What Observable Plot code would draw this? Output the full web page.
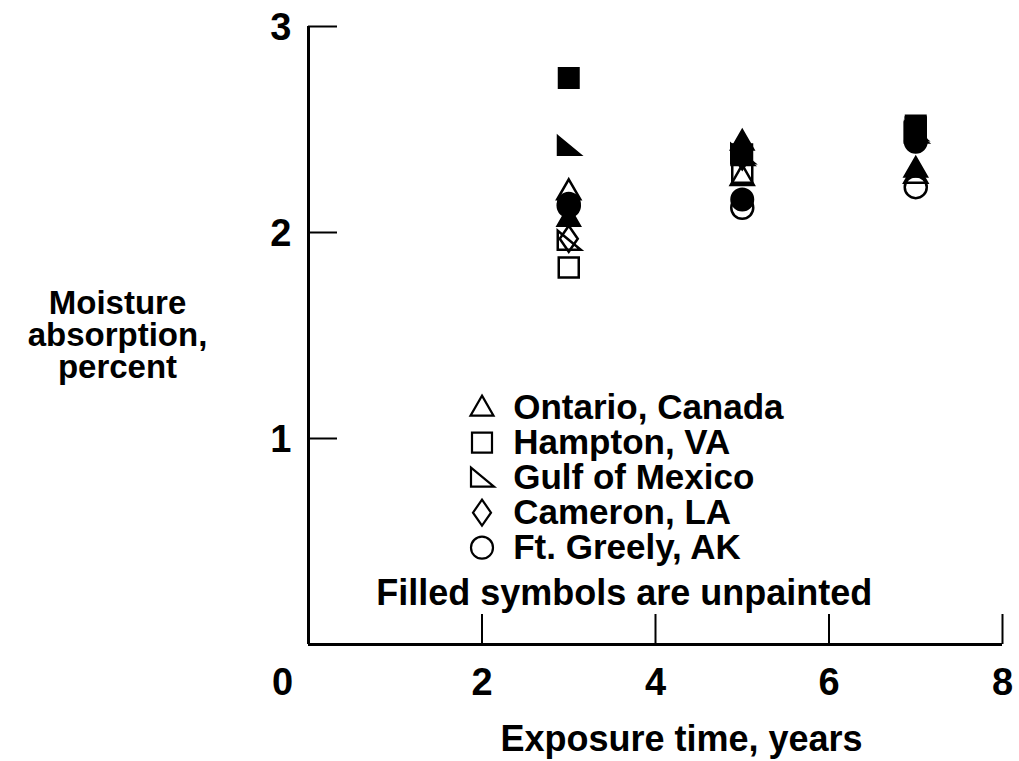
<!DOCTYPE html>
<html><head><meta charset="utf-8">
<script src="https://cdn.jsdelivr.net/npm/d3@7"></script>
<script src="https://cdn.jsdelivr.net/npm/@observablehq/plot@0.6"></script>
<style>body{margin:0;background:#fff}</style>
</head><body><div id="chart"></div>
<script>
// ---- data ----
const years = [3, 5, 7];
const ontarioPainted   = [2.20, 2.27, 2.28];
const ontarioUnpainted = [2.07, 2.44, 2.31];
const hamptonPainted   = [1.83, 2.29, 2.51];
const hamptonUnpainted = [2.75, 2.38, 2.52];
const gulfPainted      = [1.96, 2.38, 2.48];
const gulfUnpainted    = [2.42, 2.37, 2.49];
const cameronPainted   = [1.97, 2.37, 2.46];
const cameronUnpainted = [2.12, 2.40, 2.47];
const greelyPainted    = [2.13, 2.12, 2.22];
const greelyUnpainted  = [2.14, 2.16, 2.44];
const siteNames = ["Ontario, Canada", "Hampton, VA", "Gulf of Mexico", "Cameron, LA", "Ft. Greely, AK"];
const xTicks = [0, 2, 4, 6, 8];
const yTicks = [0, 1, 2, 3];
const xTitle = "Exposure time, years";
const yTitle = "Moisture\nabsorption,\npercent";
const note = "Filled symbols are unpainted";

// ---- symbols ----
const shapes = {
  tri:  {draw(c){ c.moveTo(0,-12); c.lineTo(11.5,8); c.lineTo(-11.5,8); c.closePath(); }},
  sq:   {draw(c){ c.moveTo(-10,-10); c.lineTo(10,-10); c.lineTo(10,10); c.lineTo(-10,10); c.closePath(); }},
  rtri: {draw(c){ c.moveTo(-11,-10); c.lineTo(12,9); c.lineTo(-11,9); c.closePath(); }},
  dia:  {draw(c){ c.moveTo(0,-13); c.lineTo(9,0); c.lineTo(0,13); c.lineTo(-9,0); c.closePath(); }},
  circ: {draw(c){ c.moveTo(11,0); c.arc(0,0,11,0,2*Math.PI); c.closePath(); }}
};
const series = [
  {shape: shapes.tri,  painted: ontarioPainted, unpainted: ontarioUnpainted},
  {shape: shapes.sq,   painted: hamptonPainted, unpainted: hamptonUnpainted},
  {shape: shapes.rtri, painted: gulfPainted,    unpainted: gulfUnpainted},
  {shape: shapes.dia,  painted: cameronPainted, unpainted: cameronUnpainted},
  {shape: shapes.circ, painted: greelyPainted,  unpainted: greelyUnpainted}
];

const W = 1019, H = 761;
const mL = 308, mR = 17, mT = 26, mB = 117;
const plotW = W - mL - mR, plotH = H - mT - mB;
const font = "'Liberation Sans', Arial, Helvetica, sans-serif";

const marks = [];
// axes frame
marks.push(Plot.ruleX([0], {y1: 0, y2: 3, strokeWidth: 3}));
marks.push(Plot.ruleY([0], {strokeWidth: 3}));
marks.push(Plot.tickY(yTicks.filter(d => d > 0), {y: d => d, insetRight: plotW - 29, strokeWidth: 2}));
marks.push(Plot.tickX(xTicks.filter(d => d > 0), {x: d => d, insetTop: plotH - 30, strokeWidth: 2}));
// tick labels
marks.push(Plot.text(yTicks.filter(d => d > 0), {y: d => d, text: d => String(d), frameAnchor: "left", dx: -17, dy: 1, textAnchor: "end", fontSize: 38, fontWeight: "bold"}));
marks.push(Plot.text(xTicks.filter(d => d > 0), {x: d => d, text: d => String(d), frameAnchor: "bottom", dy: 50, fontSize: 38, fontWeight: "bold"}));
marks.push(Plot.text(xTicks.filter(d => d === 0), {x: d => d, text: d => String(d), frameAnchor: "bottom", dx: -26, dy: 50, fontSize: 38, fontWeight: "bold"}));
// titles
marks.push(Plot.text([xTitle], {text: d => d, frameAnchor: "bottom", dx: 26, dy: 106, fontSize: 36, fontWeight: "bold"}));
marks.push(Plot.text([yTitle], {text: d => d, frameAnchor: "left", dx: -191, textAnchor: "middle", lineHeight: 0.97, fontSize: 33, fontWeight: "bold"}));

// data points
series.forEach(s => {
  marks.push(Plot.dot(years.map((x, i) => ({x, y: s.painted[i]})), {x: "x", y: "y", symbol: s.shape, fill: "none", stroke: "black", strokeWidth: 2.5}));
});
series.forEach(s => {
  marks.push(Plot.dot(years.map((x, i) => ({x, y: s.unpainted[i]})), {x: "x", y: "y", symbol: s.shape, fill: "black", stroke: "black", strokeWidth: 2}));
});

// legend (layout in data units)
const legX = 2.0, legTextX = 2.36, legTop = 1.15, legStep = 0.17;
series.forEach((s, i) => {
  marks.push(Plot.dot([i], {x: () => legX, y: () => legTop - i * legStep, symbol: s.shape, fill: "none", stroke: "black", strokeWidth: 2.2}));
});
marks.push(Plot.text(siteNames, {x: () => legTextX, y: (d, i) => legTop - i * legStep, text: d => d, textAnchor: "start", fontSize: 35, fontWeight: "bold"}));
marks.push(Plot.text([note], {x: () => 3.64, y: () => legTop - 5 * legStep - 0.05, text: d => d, fontSize: 36, fontWeight: "bold"}));

const chart = Plot.plot({
  width: W, height: H,
  marginLeft: mL, marginRight: mR, marginTop: mT, marginBottom: mB,
  x: {domain: [0, 8], axis: null},
  y: {domain: [0, 3], axis: null},
  style: {fontFamily: font, background: "white", color: "black", overflow: "visible"},
  marks
});
document.getElementById("chart").appendChild(chart);
</script>
</body></html>
